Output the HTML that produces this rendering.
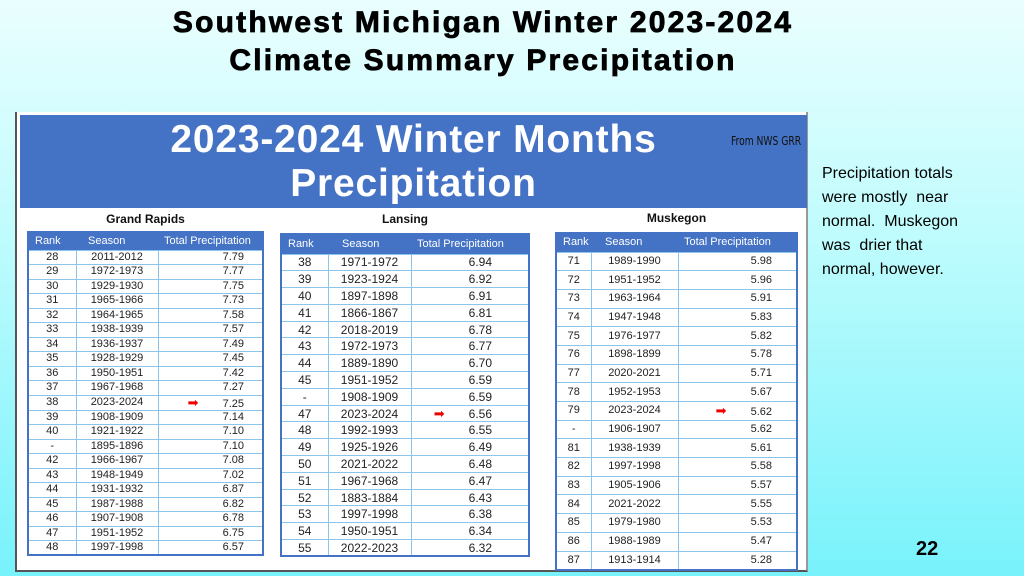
<!DOCTYPE html>
<html><head><meta charset="utf-8"><style>
*{margin:0;padding:0;box-sizing:border-box}
html,body{width:1024px;height:576px;overflow:hidden}
body{position:relative;font-family:"Liberation Sans",sans-serif;background:linear-gradient(to bottom,#eafefe 0%,#c0fcfd 40%,#78f2fb 100%)}
.t{position:absolute;left:0;width:966px;text-align:center;font-weight:bold;font-size:30px;color:#000;letter-spacing:2.2px;-webkit-text-stroke:0.8px #000}
#img{position:absolute;left:15px;top:112px;width:793px;height:460px;background:#fff;border-left:2px solid #555;border-right:2px solid #999;border-bottom:2px solid #555}
#ban{position:absolute;left:20px;top:115px;width:787px;height:93px;background:#4472c4;color:#fff;font-weight:bold;text-align:center;font-size:39px;line-height:44px;padding-top:3px;letter-spacing:0.8px}
#from{position:absolute;left:731px;top:134px;font-size:12px;color:#111;font-family:"DejaVu Sans Condensed","Liberation Sans Narrow",sans-serif;transform:scaleX(.85);transform-origin:left}
.h{position:absolute;font-weight:bold;font-size:12px;text-align:center;color:#111}
table{position:absolute;border-collapse:collapse;border:2px solid #4472c4;font-size:11px;color:#222;line-height:1}
th{background:#4472c4;color:#fff;font-weight:normal;text-align:left;padding-left:6px;font-size:11px;border:none}
td{border:1px solid #8cc4ec;text-align:center;padding:0}
td:nth-child(3){text-align:right}
.ar{color:#e00;font-size:13px;margin-right:24px}
#note{position:absolute;left:822px;top:162px;font-size:16px;line-height:24px;color:#000;width:200px;white-space:nowrap}
#pg{position:absolute;left:916px;top:538px;font-weight:bold;font-size:20px}
.g tr{height:14.5px}
</style></head><body>
<div class="t" style="top:6px">Southwest Michigan Winter 2023-2024</div>
<div class="t" style="top:44px">Climate Summary Precipitation</div>
<div id="img"></div>
<div id="ban">2023-2024 Winter Months<br>Precipitation</div>
<div id="from">From NWS GRR</div>
<div class="h" style="left:27px;top:212px;width:237px">Grand Rapids</div>
<div class="h" style="left:280px;top:212px;width:250px">Lansing</div>
<div class="h" style="left:555px;top:211px;width:243px">Muskegon</div>

<table class="g" style="left:27px;top:231px;width:237px">
<colgroup><col style="width:48px"><col style="width:82px"><col></colgroup>
<tr style="height:18px"><th>Rank</th><th style="padding-left:12px">Season</th><th>Total Precipitation</th></tr>
<tr><td>28</td><td>2011-2012</td><td style="padding-right:18px">7.79</td></tr>
<tr><td>29</td><td>1972-1973</td><td style="padding-right:18px">7.77</td></tr>
<tr><td>30</td><td>1929-1930</td><td style="padding-right:18px">7.75</td></tr>
<tr><td>31</td><td>1965-1966</td><td style="padding-right:18px">7.73</td></tr>
<tr><td>32</td><td>1964-1965</td><td style="padding-right:18px">7.58</td></tr>
<tr><td>33</td><td>1938-1939</td><td style="padding-right:18px">7.57</td></tr>
<tr><td>34</td><td>1936-1937</td><td style="padding-right:18px">7.49</td></tr>
<tr><td>35</td><td>1928-1929</td><td style="padding-right:18px">7.45</td></tr>
<tr><td>36</td><td>1950-1951</td><td style="padding-right:18px">7.42</td></tr>
<tr><td>37</td><td>1967-1968</td><td style="padding-right:18px">7.27</td></tr>
<tr><td>38</td><td>2023-2024</td><td style="padding-right:18px"><span class="ar">➡</span>7.25</td></tr>
<tr><td>39</td><td>1908-1909</td><td style="padding-right:18px">7.14</td></tr>
<tr><td>40</td><td>1921-1922</td><td style="padding-right:18px">7.10</td></tr>
<tr><td>-</td><td>1895-1896</td><td style="padding-right:18px">7.10</td></tr>
<tr><td>42</td><td>1966-1967</td><td style="padding-right:18px">7.08</td></tr>
<tr><td>43</td><td>1948-1949</td><td style="padding-right:18px">7.02</td></tr>
<tr><td>44</td><td>1931-1932</td><td style="padding-right:18px">6.87</td></tr>
<tr><td>45</td><td>1987-1988</td><td style="padding-right:18px">6.82</td></tr>
<tr><td>46</td><td>1907-1908</td><td style="padding-right:18px">6.78</td></tr>
<tr><td>47</td><td>1951-1952</td><td style="padding-right:18px">6.75</td></tr>
<tr><td>48</td><td>1997-1998</td><td style="padding-right:18px">6.57</td></tr>
</table>

<table style="left:280px;top:233px;width:250px;font-size:12px">
<colgroup><col style="width:47px"><col style="width:83px"><col></colgroup>
<tr style="height:20px"><th>Rank</th><th style="padding-left:14px">Season</th><th>Total Precipitation</th></tr>
<tr style="height:16.8px"><td>38</td><td>1971-1972</td><td style="padding-right:36px">6.94</td></tr>
<tr style="height:16.8px"><td>39</td><td>1923-1924</td><td style="padding-right:36px">6.92</td></tr>
<tr style="height:16.8px"><td>40</td><td>1897-1898</td><td style="padding-right:36px">6.91</td></tr>
<tr style="height:16.8px"><td>41</td><td>1866-1867</td><td style="padding-right:36px">6.81</td></tr>
<tr style="height:16.8px"><td>42</td><td>2018-2019</td><td style="padding-right:36px">6.78</td></tr>
<tr style="height:16.8px"><td>43</td><td>1972-1973</td><td style="padding-right:36px">6.77</td></tr>
<tr style="height:16.8px"><td>44</td><td>1889-1890</td><td style="padding-right:36px">6.70</td></tr>
<tr style="height:16.8px"><td>45</td><td>1951-1952</td><td style="padding-right:36px">6.59</td></tr>
<tr style="height:16.8px"><td>-</td><td>1908-1909</td><td style="padding-right:36px">6.59</td></tr>
<tr style="height:16.8px"><td>47</td><td>2023-2024</td><td style="padding-right:36px"><span class="ar">➡</span>6.56</td></tr>
<tr style="height:16.8px"><td>48</td><td>1992-1993</td><td style="padding-right:36px">6.55</td></tr>
<tr style="height:16.8px"><td>49</td><td>1925-1926</td><td style="padding-right:36px">6.49</td></tr>
<tr style="height:16.8px"><td>50</td><td>2021-2022</td><td style="padding-right:36px">6.48</td></tr>
<tr style="height:16.8px"><td>51</td><td>1967-1968</td><td style="padding-right:36px">6.47</td></tr>
<tr style="height:16.8px"><td>52</td><td>1883-1884</td><td style="padding-right:36px">6.43</td></tr>
<tr style="height:16.8px"><td>53</td><td>1997-1998</td><td style="padding-right:36px">6.38</td></tr>
<tr style="height:16.8px"><td>54</td><td>1950-1951</td><td style="padding-right:36px">6.34</td></tr>
<tr style="height:16.8px"><td>55</td><td>2022-2023</td><td style="padding-right:36px">6.32</td></tr>
</table>

<table style="left:555px;top:232px;width:243px">
<colgroup><col style="width:35px"><col style="width:87px"><col></colgroup>
<tr style="height:19px"><th>Rank</th><th style="padding-left:14px">Season</th><th>Total Precipitation</th></tr>
<tr style="height:18.7px"><td>71</td><td>1989-1990</td><td style="padding-right:24px">5.98</td></tr>
<tr style="height:18.7px"><td>72</td><td>1951-1952</td><td style="padding-right:24px">5.96</td></tr>
<tr style="height:18.7px"><td>73</td><td>1963-1964</td><td style="padding-right:24px">5.91</td></tr>
<tr style="height:18.7px"><td>74</td><td>1947-1948</td><td style="padding-right:24px">5.83</td></tr>
<tr style="height:18.7px"><td>75</td><td>1976-1977</td><td style="padding-right:24px">5.82</td></tr>
<tr style="height:18.7px"><td>76</td><td>1898-1899</td><td style="padding-right:24px">5.78</td></tr>
<tr style="height:18.7px"><td>77</td><td>2020-2021</td><td style="padding-right:24px">5.71</td></tr>
<tr style="height:18.7px"><td>78</td><td>1952-1953</td><td style="padding-right:24px">5.67</td></tr>
<tr style="height:18.7px"><td>79</td><td>2023-2024</td><td style="padding-right:24px"><span class="ar">➡</span>5.62</td></tr>
<tr style="height:18.7px"><td>-</td><td>1906-1907</td><td style="padding-right:24px">5.62</td></tr>
<tr style="height:18.7px"><td>81</td><td>1938-1939</td><td style="padding-right:24px">5.61</td></tr>
<tr style="height:18.7px"><td>82</td><td>1997-1998</td><td style="padding-right:24px">5.58</td></tr>
<tr style="height:18.7px"><td>83</td><td>1905-1906</td><td style="padding-right:24px">5.57</td></tr>
<tr style="height:18.7px"><td>84</td><td>2021-2022</td><td style="padding-right:24px">5.55</td></tr>
<tr style="height:18.7px"><td>85</td><td>1979-1980</td><td style="padding-right:24px">5.53</td></tr>
<tr style="height:18.7px"><td>86</td><td>1988-1989</td><td style="padding-right:24px">5.47</td></tr>
<tr style="height:18.7px"><td>87</td><td>1913-1914</td><td style="padding-right:24px">5.28</td></tr>
</table>

<div id="note">Precipitation totals<br>were mostly&nbsp; near<br>normal.&nbsp; Muskegon<br>was&nbsp; drier that<br>normal, however.</div>
<div id="pg">22</div>
</body></html>
